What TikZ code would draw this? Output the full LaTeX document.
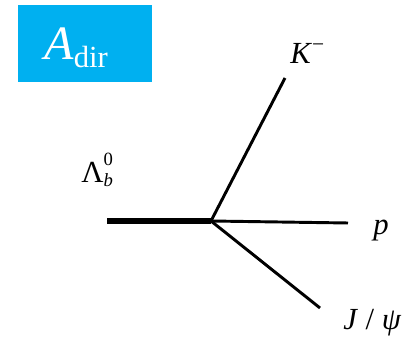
\documentclass[tikz,border=0pt]{standalone}
\usepackage{fontspec}
\setmainfont{Liberation Serif}
\definecolor{titleblue}{HTML}{00B0F0}
\begin{document}
\begin{tikzpicture}[x={(0.75pt,0)},y={(0,-0.75pt)},
	particle/.style={font=\fontsize{23}{27}\selectfont,anchor=base west,inner sep=0pt},
	leg/.style={line width=2.2pt},
	mother/.style={line width=5.2pt}]
	\useasboundingbox (0,0) rectangle (418,341);
	\fill[titleblue] (18,5) rectangle (152,82);
	\node[text=white,font=\fontsize{36}{40}\selectfont,inner sep=0pt,anchor=base west] (title) at (44,60) {\textit{A}\raisebox{-6pt}{\fontsize{23}{26}\selectfont dir}};
	\coordinate (vtx) at (211,221);
	\coordinate (start) at (107,221);
	\coordinate (kend) at (285,78);
	\coordinate (pend) at (348,223);
	\coordinate (jend) at (320,308);
	\draw[mother] (start) -- (vtx);
	\draw[leg] (vtx) -- (kend);
	\draw[leg] (vtx) -- (pend);
	\draw[leg] (vtx) -- (jend);
	\node[particle] (lb) at (81,183) {Λ\fontsize{14}{16}\selectfont\rlap{\raisebox{13pt}{0}}\raisebox{-3pt}{\textit{b}}};
	\node[particle] (km) at (290,64) {\textit{K}\textsuperscript{−}};
	\node[particle] (pr) at (373,235) {\textit{p}};
	\node[particle] (jpsi) at (343,330) {\textit{J} / \textit{ψ}};
\end{tikzpicture}
\end{document}
